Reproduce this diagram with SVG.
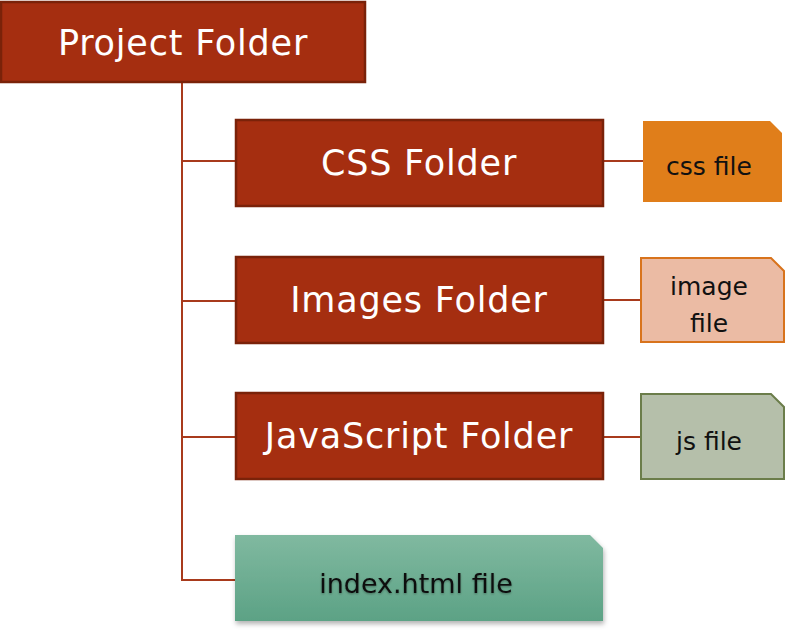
<svg xmlns="http://www.w3.org/2000/svg" width="786" height="633" viewBox="0 0 786 633">
<style>
.folder rect{fill:#a52e10;stroke:#7a2209;stroke-width:2.5}
.ft{font-family:"DejaVu Sans",sans-serif;font-size:35px;letter-spacing:0.8px;fill:#fff;text-anchor:middle}
.fl{font-family:"DejaVu Sans",sans-serif;font-size:25px;fill:#111;text-anchor:middle}
.conn{stroke:#a83a1c;stroke-width:2;fill:none}
</style>
<defs>
<linearGradient id="g" x1="0" y1="0" x2="0" y2="1">
<stop offset="0" stop-color="#80b9a0"/>
<stop offset="1" stop-color="#5ca285"/>
</linearGradient>
<filter id="sh" x="-5%" y="-10%" width="115%" height="130%">
<feDropShadow dx="1" dy="3" stdDeviation="2.5" flood-color="#000" flood-opacity="0.3"/>
</filter>
<filter id="tg" x="-5%" y="-20%" width="110%" height="140%">
<feDropShadow dx="0" dy="1" stdDeviation="1" flood-color="#000" flood-opacity="0.35"/>
</filter>
</defs>
<g id="connectors">
<path class="conn" d="M182 82 V580 H236"/>
<path class="conn" d="M182 161 H236"/>
<path class="conn" d="M182 301 H236"/>
<path class="conn" d="M182 437 H236"/>
<path class="conn" d="M603 161 H643"/>
<path class="conn" d="M603 300 H641"/>
<path class="conn" d="M603 437 H641"/>
</g>
<g id="project" class="folder">
<rect x="1" y="2" width="364" height="80"/>
<text class="ft" x="183" y="55">Project Folder</text>
</g>
<g id="css" class="folder">
<rect x="236" y="120" width="367" height="86"/>
<text class="ft" x="419" y="175">CSS Folder</text>
</g>
<g id="images" class="folder">
<rect x="236" y="257" width="367" height="86"/>
<text class="ft" x="419" y="312">Images Folder</text>
</g>
<g id="js" class="folder">
<rect x="236" y="393" width="367" height="86"/>
<text class="ft" x="419" y="448">JavaScript Folder</text>
</g>
<g id="cssfile">
<path d="M643 121 H770 L782 133 V202 H643 Z" fill="#e07e1a"/>
<text class="fl" x="709" y="175">css file</text>
</g>
<g id="imagefile">
<path d="M641 258 H771 L784 271 V342 H641 Z" fill="#ebbba4" stroke="#d8731c" stroke-width="2"/>
<text class="fl" x="709" y="295">image</text>
<text class="fl" x="709" y="332">file</text>
</g>
<g id="jsfile">
<path d="M641 394 H771 L784 407 V479 H641 Z" fill="#b5bfaa" stroke="#6b7d4a" stroke-width="2"/>
<text class="fl" x="709" y="450">js file</text>
</g>
<g id="index">
<path d="M235 535 H590 L603 548 V621 H235 Z" fill="url(#g)" filter="url(#sh)"/>
<text class="fl" x="416" y="593" style="font-size:27px" filter="url(#tg)">index.html file</text>
</g>
</svg>
